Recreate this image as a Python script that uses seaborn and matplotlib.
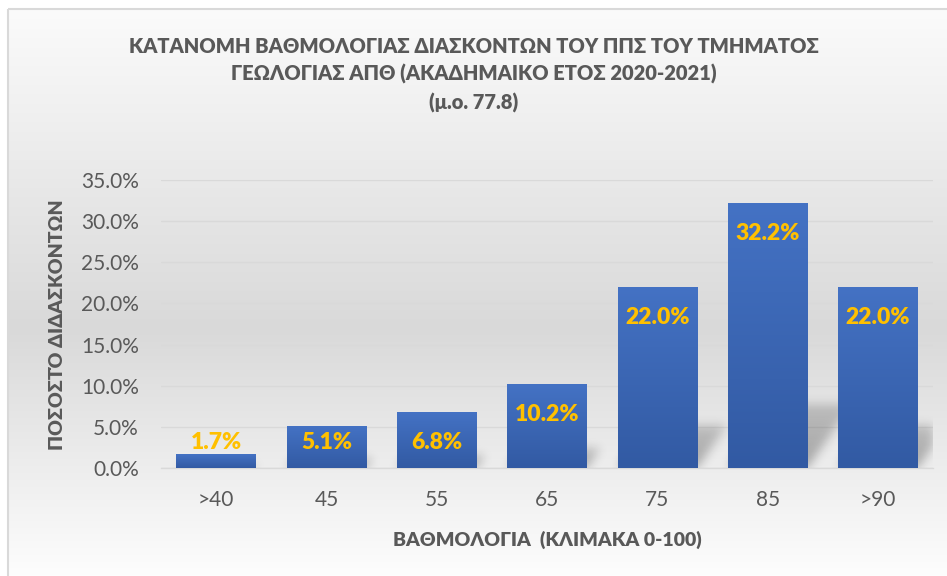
import numpy as np
import pandas as pd
import seaborn as sns
import matplotlib.pyplot as plt
from matplotlib.colors import LinearSegmentedColormap
from matplotlib.patches import Rectangle
from matplotlib.ticker import PercentFormatter

# data
grades = [">40", "45", "55", "65", "75", "85", ">90"]
percent = [1.7, 5.1, 6.8, 10.2, 22.0, 32.2, 22.0]
yticks = [0, 5, 10, 15, 20, 25, 30, 35]

title = ("ΚΑΤΑΝΟΜΗ ΒΑΘΜΟΛΟΓΙΑΣ ΔΙΑΣΚΟΝΤΩΝ ΤΟΥ ΠΠΣ ΤΟΥ ΤΜΗΜΑΤΟΣ\n"
         "ΓΕΩΛΟΓΙΑΣ ΑΠΘ (ΑΚΑΔΗΜΑΙΚΟ ΕΤΟΣ 2020-2021)\n"
         "(μ.ο. 77.8)")
xlabel = "ΒΑΘΜΟΛΟΓΙΑ  (ΚΛΙΜΑΚΑ 0-100)"
ylabel = "ΠΟΣΟΣΤΌ ΔΙΔΑΣΚΟΝΤΩΝ"

df = pd.DataFrame({"grade": grades, "percent": percent})

sns.set_theme(style="white")
plt.rcParams['font.family'] = ['Lato', 'DejaVu Sans']
txt = "#595959"
BOLD = 800
YMAX = 35

fig = plt.figure(figsize=(9.47, 5.76), dpi=100)
fig.patch.set_facecolor("white")

# chart area background: vertical gray gradient + border
bg = fig.add_axes([0, 0, 1, 1], zorder=0)
bg_cmap = LinearSegmentedColormap.from_list(
    "bg", [(0, "#fbfbfb"), (0.55, "#d9d9d9"), (0.8, "#eeeeee"), (1, "#ffffff")])
grad = np.linspace(0, 1, 256).reshape(-1, 1)
bg.imshow(grad, aspect="auto", cmap=bg_cmap, extent=[8, 960, 590, 9],
          interpolation="bilinear")
bg.add_patch(Rectangle((8, 9), 960, 600, fill=False, edgecolor="#d9d9d9", lw=1.5))
bg.set_xlim(0, 947)
bg.set_ylim(576, 0)
bg.axis("off")

ax = fig.add_axes([161 / 947, 1 - 468 / 576, 772 / 947, 288 / 576], zorder=1)
ax.patch.set_alpha(0)

sns.barplot(data=df, x="grade", y="percent", color="#4472C4", width=0.72,
            saturation=1, linewidth=0, edgecolor="none", ax=ax, zorder=3)

ax.set_xlim(-0.5, len(grades) - 0.5)
ax.set_ylim(0, YMAX)

# soft perspective shadow behind each bar (blurred sheared copy of its base)
nx, ny = 772, 288
xs = -0.5 + (np.arange(nx) + 0.5) / nx * len(grades)
ys = (np.arange(ny) + 0.5) / ny * YMAX
X, Y = np.meshgrid(xs, ys)
mask = np.zeros((ny, nx))
for p in ax.patches:
    x0, w, h = p.get_x(), p.get_width(), p.get_height()
    hs = 0.24 * h
    shift = 0.7 * (hs * ny / YMAX) / (nx / len(grades))
    t = Y / hs
    inside = (t <= 1) & (X >= x0 + t * shift) & (X <= x0 + w + t * shift)
    mask[inside] = np.maximum(mask[inside], 1 - 0.4 * t[inside])
k = np.exp(-0.5 * (np.arange(-15, 16) / 5.0) ** 2)
k /= k.sum()
mask = np.apply_along_axis(lambda r: np.convolve(r, k, mode="same"), 1, mask)
mask = np.apply_along_axis(lambda c: np.convolve(c, k, mode="same"), 0, mask)
shadow = np.zeros((ny, nx, 4))
shadow[..., 3] = 0.3 * mask
ax.imshow(shadow, origin="lower", aspect="auto", zorder=2,
          extent=[-0.5, len(grades) - 0.5, 0, YMAX], interpolation="bilinear")

# vertical gradient inside each bar
bar_cmap = LinearSegmentedColormap.from_list("bar", ["#4472C4", "#325AA3"])
for p in ax.patches:
    x0, y0 = p.get_x(), p.get_y()
    w, h = p.get_width(), p.get_height()
    im = ax.imshow(grad, aspect="auto", cmap=bar_cmap,
                   extent=[x0, x0 + w, y0, y0 + h], zorder=3.5,
                   interpolation="bilinear")
    im.set_clip_path(p)

ax.set_xlim(-0.5, len(grades) - 0.5)
ax.set_ylim(0, YMAX)
ax.set_yticks(yticks)
ax.yaxis.set_major_formatter(PercentFormatter(decimals=1))
ax.grid(axis="y", color="#d9d9d9", lw=1)
ax.set_axisbelow(True)
for s in ["top", "right", "left"]:
    ax.spines[s].set_visible(False)
ax.spines["bottom"].set_color("#d9d9d9")
ax.spines["bottom"].set_linewidth(1)
ax.tick_params(axis="y", length=0, pad=16, labelsize=15, labelcolor=txt)
ax.tick_params(axis="x", length=0, pad=16, labelsize=15, labelcolor=txt)

# data labels (inside end, kept above baseline)
for i, v in enumerate(percent):
    ax.text(i, max(v - 3.65, 3.04), f"{v:.1f}%", ha="center", va="center",
            color="#FFC000", fontsize=16.5, fontweight=BOLD, zorder=5)

ax.set_xlabel(xlabel, fontsize=14, fontweight=BOLD, color=txt)
ax.set_ylabel(ylabel, fontsize=14, fontweight=BOLD, color=txt)
ax.xaxis.set_label_coords((547 - 161) / 772, -(531 - 468) / 288)
ax.yaxis.set_label_coords(-(161 - 66) / 772, (468 - 325) / 288)

fig.text(0.5, 1 - 75 / 576, title, ha="center", va="center", fontsize=14.5,
         fontweight=BOLD, color=txt, linespacing=1.5)

fig.savefig("out.png", dpi=100)
